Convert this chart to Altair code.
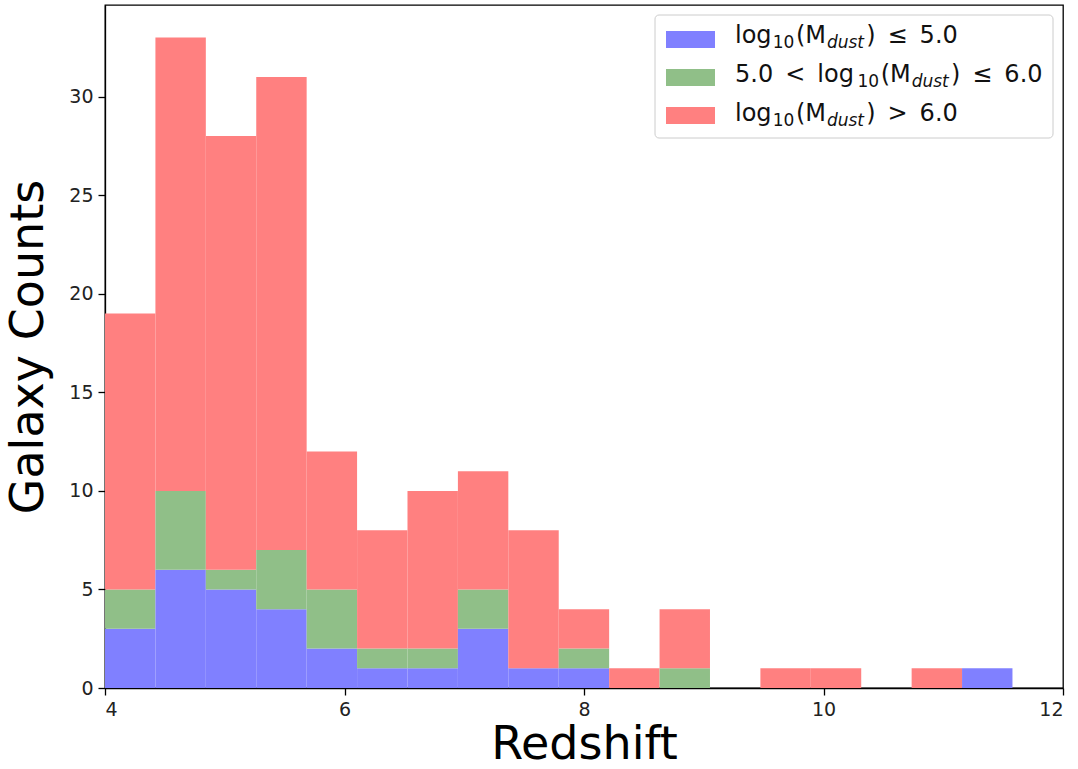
import altair as alt
import pandas as pd

# ---------------- data ----------------
bin_start = 4.0
bin_width = 0.421
n_bins = 18
blue_counts = [3, 6, 5, 4, 2, 1, 1, 3, 1, 1, 0, 0, 0, 0, 0, 0, 0, 1]
green_counts = [2, 4, 1, 3, 3, 1, 1, 2, 0, 1, 0, 1, 0, 0, 0, 0, 0, 0]
red_counts = [14, 23, 22, 24, 7, 6, 8, 6, 7, 2, 1, 3, 0, 1, 1, 0, 1, 0]
classes = ["low", "mid", "high"]
class_colors = ["#8080FF", "#90BF88", "#FF8080"]
x_ticks = [4, 6, 8, 10, 12]
y_ticks = [0, 5, 10, 15, 20, 25, 30]

# ---------------- build stacked bar table ----------------
rows = []
for i in range(n_bins):
    lo = bin_start + i * bin_width
    hi = lo + bin_width
    base = 0
    for cls, counts in zip(classes, [blue_counts, green_counts, red_counts]):
        c = counts[i]
        if c > 0:
            rows.append({"x0": lo, "x1": hi, "y0": base, "y1": base + c, "cls": cls})
        base += c
bars_df = pd.DataFrame(rows)

W, H = 958, 683
FONT = "DejaVu Sans"

bars = alt.Chart(bars_df).mark_rect(strokeWidth=0).encode(
    x=alt.X("x0:Q", scale=alt.Scale(domain=[4, 12], nice=False, zero=False),
            axis=alt.Axis(values=x_ticks, title="Redshift", grid=False,
                          titleY=70, titleBaseline="alphabetic")),
    x2="x1:Q",
    y=alt.Y("y0:Q", scale=alt.Scale(domain=[0, 34.65], nice=False),
            axis=alt.Axis(values=y_ticks, title="Galaxy Counts", grid=False,
                          titleX=-63, titleY=H / 2, titleAngle=-90,
                          titleBaseline="alphabetic", titleAlign="center")),
    y2="y1:Q",
    color=alt.Color("cls:N", scale=alt.Scale(domain=classes, range=class_colors),
                    legend=None),
)

# ---------------- custom legend (mathtext-like labels) ----------------
adv = {'l': 569, 'o': 1253, 'g': 1300, '(': 799, ')': 799, 'M': 1767, ' ': 651,
       '\u2002': 1024, '≤': 1716, '<': 1716, '>': 1716, '.': 651, 'd': 1300,
       'u': 1298, 's': 1067, 't': 803}


def tw(s, size):
    return sum(adv.get(ch, 1303) for ch in s) / 2048.0 * size


SP = "\u2002"
legend_labels = [
    [("log", "main"), ("10", "sub"), ("(M", "main"), ("dust", "subit"),
     (")" + SP + "≤" + SP + "5.0", "main")],
    [("5.0" + SP + "<" + SP + "log", "main"), ("10", "sub"), ("(M", "main"),
     ("dust", "subit"), (")" + SP + "≤" + SP + "6.0", "main")],
    [("log", "main"), ("10", "sub"), ("(M", "main"), ("dust", "subit"),
     (")" + SP + ">" + SP + "6.0", "main")],
]
main_size, sub_size = 24, 17
text_x0 = 630
baselines = [38, 77, 116]
sw_top = [26, 64, 102]

txt_rows = []
for r, pieces in enumerate(legend_labels):
    x = text_x0
    for s, kind in pieces:
        size = main_size if kind == "main" else sub_size
        y = baselines[r] + (0 if kind == "main" else 5)
        txt_rows.append({"px": x, "py": y, "t": s, "fs": size,
                         "it": kind == "subit"})
        x += tw(s, size) * 1.03 + (1 if kind != "main" else 0)
txt_df = pd.DataFrame(txt_rows)

sw_df = pd.DataFrame({"sx0": [561] * 3, "sx1": [610] * 3,
                      "sy0": sw_top, "sy1": [t + 17 for t in sw_top],
                      "cls": classes})
frame_df = pd.DataFrame({"fx0": [550], "fx1": [948], "fy0": [10], "fy1": [133]})

frame = alt.Chart(frame_df).mark_rect(
    fill="white", fillOpacity=0.8, stroke="#cccccc", strokeWidth=1, cornerRadius=4
).encode(
    x=alt.X("fx0:Q", scale=None, axis=None), x2="fx1:Q",
    y=alt.Y("fy0:Q", scale=None, axis=None), y2="fy1:Q",
)

swatches = alt.Chart(sw_df).mark_rect().encode(
    x=alt.X("sx0:Q", scale=None, axis=None), x2="sx1:Q",
    y=alt.Y("sy0:Q", scale=None, axis=None), y2="sy1:Q",
    color=alt.Color("cls:N", scale=alt.Scale(domain=classes, range=class_colors),
                    legend=None),
)

txt_normal = alt.Chart(txt_df).transform_filter("!datum.it").mark_text(
    font=FONT, align="left", baseline="alphabetic", color="#111111"
).encode(
    x=alt.X("px:Q", scale=None, axis=None),
    y=alt.Y("py:Q", scale=None, axis=None),
    size=alt.Size("fs:Q", scale=None, legend=None),
    text="t:N",
)

txt_italic = alt.Chart(txt_df).transform_filter("datum.it").mark_text(
    font=FONT, align="left", baseline="alphabetic", color="#111111",
    fontStyle="italic"
).encode(
    x=alt.X("px:Q", scale=None, axis=None),
    y=alt.Y("py:Q", scale=None, axis=None),
    size=alt.Size("fs:Q", scale=None, legend=None),
    text="t:N",
)

chart = alt.layer(bars, frame, swatches, txt_normal, txt_italic).properties(
    width=W, height=H,
    autosize=alt.AutoSizeParams(type="none"),
    padding={"left": 105, "top": 5, "right": 15, "bottom": 81},
    background="white",
).configure_view(
    stroke="black", strokeWidth=1.3
).configure_axis(
    labelFont=FONT, labelFontSize=19, labelColor="#222222",
    titleFont=FONT, titleFontSize=46, titleFontWeight="normal", titleColor="black",
    domainColor="black", domainWidth=1.3, tickColor="black", tickSize=7,
    tickWidth=1.3, labelPadding=5,
)

chart.save("out.html", embed_options={"renderer": "svg", "actions": False})
